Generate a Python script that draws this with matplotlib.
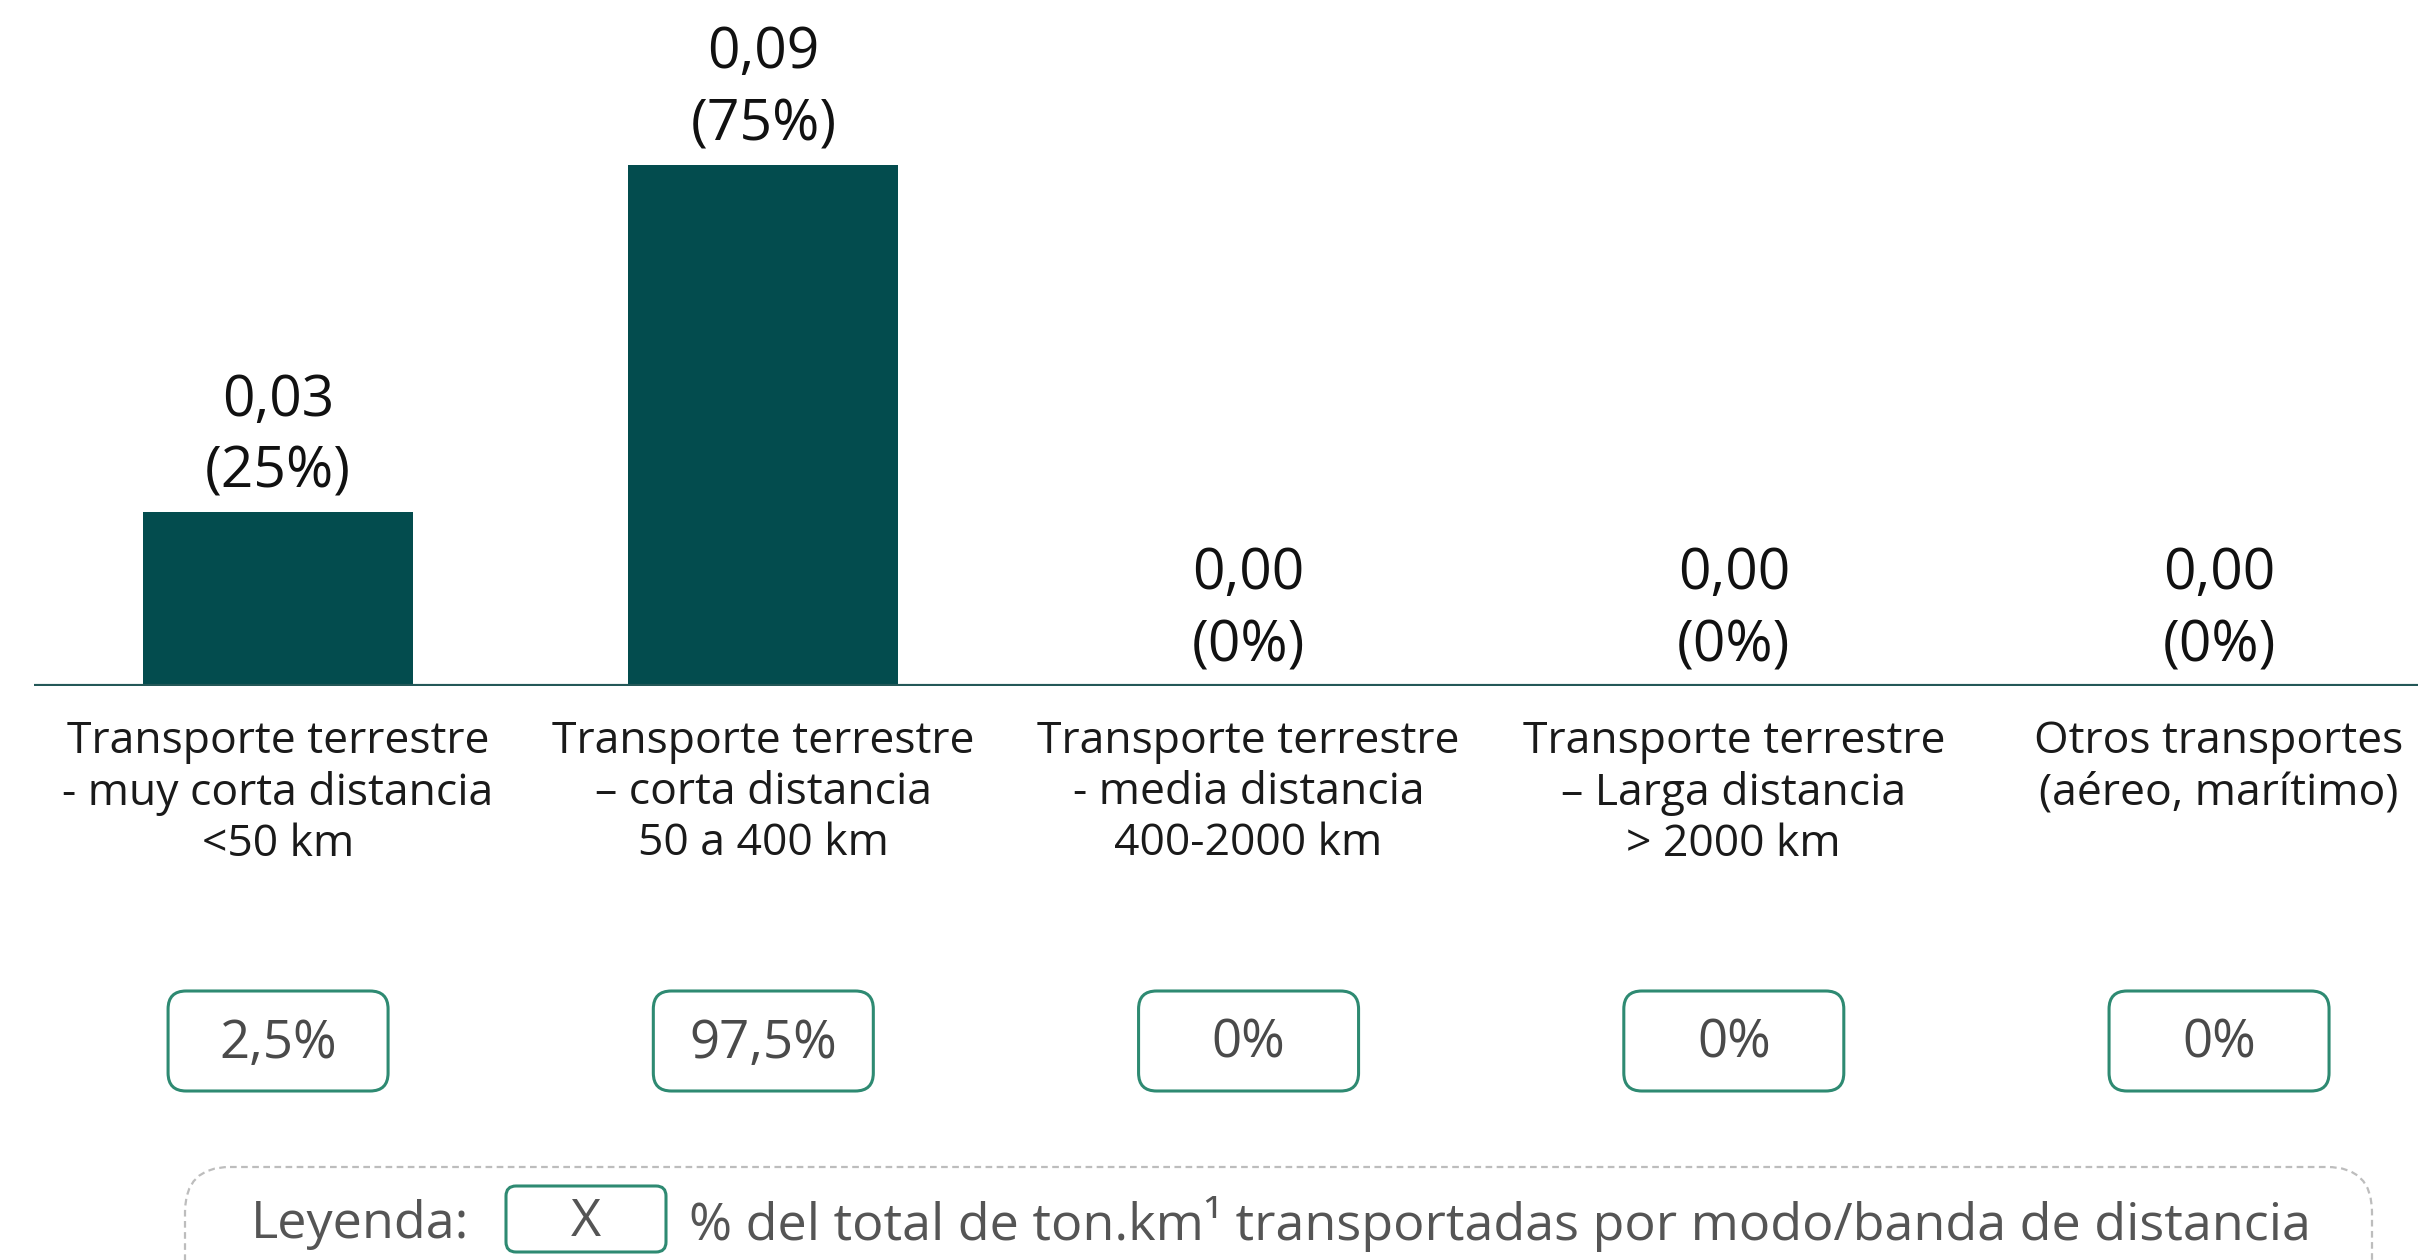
import numpy as np
import matplotlib.pyplot as plt
from matplotlib.patches import FancyBboxPatch

plt.rcParams['font.family'] = ['Open Sans', 'DejaVu Sans']

categories = ["Transporte terrestre\n- muy corta distancia\n<50 km",
              "Transporte terrestre\n\u2013 corta distancia\n50 a 400 km",
              "Transporte terrestre\n- media distancia\n400-2000 km",
              "Transporte terrestre\n\u2013 Larga distancia\n> 2000 km",
              "Otros transportes\n(a\u00e9reo, mar\u00edtimo)\n"]
values = [0.03, 0.09, 0.0, 0.0, 0.0]
value_labels = ["0,03", "0,09", "0,00", "0,00", "0,00"]
share_labels = ["(25%)", "(75%)", "(0%)", "(0%)", "(0%)"]
tonkm_labels = ["2,5%", "97,5%", "0%", "0%", "0%"]
legend_title = "Leyenda:"
legend_key = "X"
legend_text = "% del total de ton.km\u00b9 transportadas por modo/banda de distancia"

bar_color = "#034c4e"
box_color = "#2e8a72"

W, H = 2418, 1260
fig = plt.figure(figsize=(W / 100, H / 100), dpi=100)
ax = fig.add_axes([34 / W, 574 / H, 2384 / W, 686 / H])

x = np.arange(len(categories))
ax.bar(x, values, width=0.556, color=bar_color, zorder=2)
ax.set_xlim(-0.503, 4.41)
ax.set_ylim(0, 0.1185)
ax.axhline(0, color="#245858", lw=3, zorder=3)

for sp in ax.spines.values():
    sp.set_visible(False)
ax.set_yticks([])
ax.set_xticks(x)
ax.set_xticklabels(categories, fontsize=32, color="#1a1a1a", linespacing=1.2, va="top")
ax.tick_params(axis="x", length=0, pad=24)

for xi, v, vl, sl in zip(x, values, value_labels, share_labels):
    ax.annotate(sl, (xi, v), xytext=(0, 28), textcoords="offset points",
                ha="center", va="center", fontsize=41, color="#111111")
    ax.annotate(vl, (xi, v), xytext=(0, 80), textcoords="offset points",
                ha="center", va="center", fontsize=41, color="#111111")

# overlay in pixel coordinates for boxes and legend
ov = fig.add_axes([0, 0, 1, 1])
ov.set_xlim(0, W)
ov.set_ylim(H, 0)
ov.axis("off")
ov.patch.set_alpha(0)

centers = [ax.transData.transform((xi, 0))[0] for xi in x]
bw, bh = 220, 100
for cx, lab in zip(centers, tonkm_labels):
    ov.add_patch(FancyBboxPatch((cx - bw / 2, 1041 - bh / 2), bw, bh,
                                boxstyle="round,pad=0,rounding_size=18",
                                fc="white", ec=box_color, lw=2.2))
    ov.text(cx, 1044, lab, ha="center", va="center", fontsize=38, color="#4a4a4a")

# legend
ov.add_patch(FancyBboxPatch((185, 1167), 2372 - 185, 160,
                            boxstyle="round,pad=0,rounding_size=45",
                            fc="none", ec="#bdbdbd", lw=1.6, ls=(0, (3, 2))))
ov.text(251, 1224, legend_title, ha="left", va="center", fontsize=37.5, color="#555555")
ov.add_patch(FancyBboxPatch((506, 1186), 160, 66,
                            boxstyle="round,pad=0,rounding_size=10",
                            fc="white", ec=box_color, lw=2.2))
ov.text(586, 1222, legend_key, ha="center", va="center", fontsize=37.5, color="#555555")
ov.text(689, 1224, legend_text, ha="left", va="center", fontsize=37.5, color="#555555")

fig.savefig("out.png", dpi=100)
